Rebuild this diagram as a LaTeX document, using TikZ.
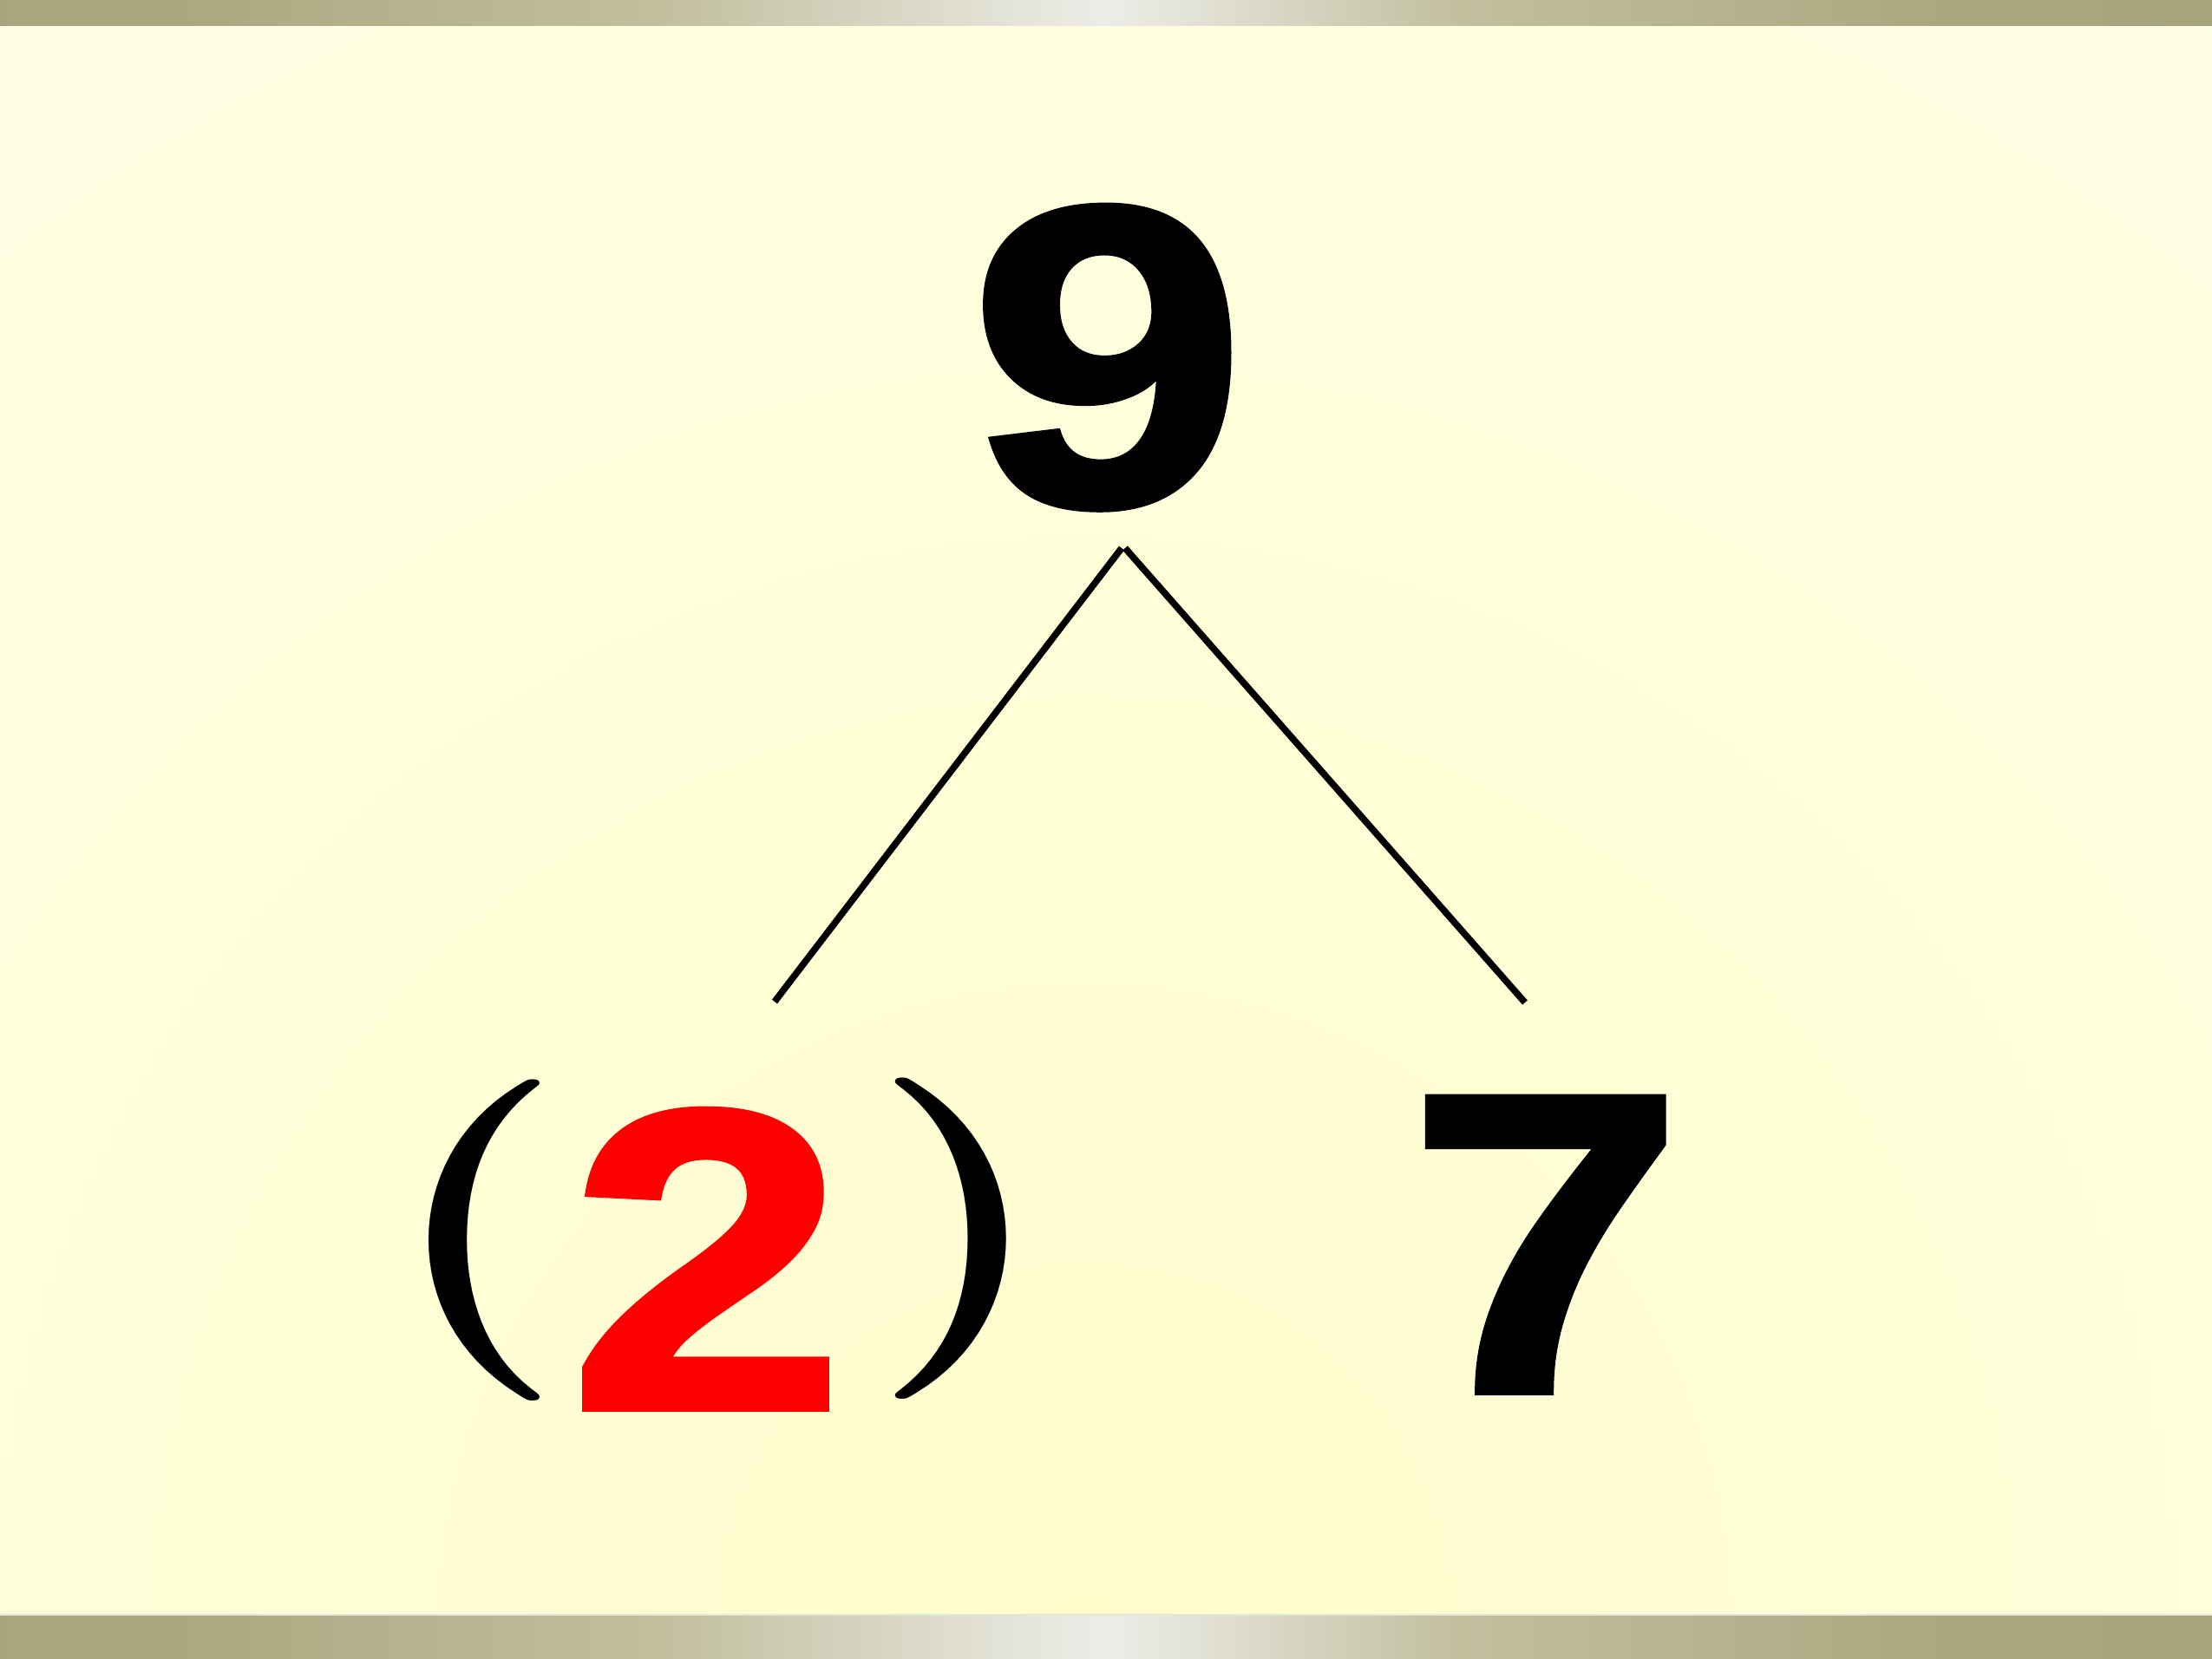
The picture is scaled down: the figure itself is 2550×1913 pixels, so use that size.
\documentclass[tikz,border=0pt]{standalone}
\usepackage{fontspec}
\setmainfont{Liberation Sans}
\newfontfamily\digitfont{Liberation Sans}[BoldFeatures={FakeBold=1.6}]
\newfontfamily\parenfont{Latin Modern Roman}
\usetikzlibrary{calc}
\definecolor{bgout}{HTML}{FFFFEC}
\definecolor{bgin}{HTML}{FFFDCC}
\definecolor{barA}{HTML}{9E9C70}
\definecolor{barB}{HTML}{ACA982}
\definecolor{barC}{HTML}{C2BF9E}
\definecolor{barD}{HTML}{EDEDE8}
\definecolor{numred}{HTML}{FF0000}
\pgfdeclarehorizontalshading{barshade}{100bp}{
  color(0bp)=(barA!90!gray); color(12bp)=(barA); color(30bp)=(barB);
  color(40bp)=(barC); color(50bp)=(barD); color(58bp)=(barC);
  color(68bp)=(barB); color(85bp)=(barA); color(100bp)=(barB)}
\tikzset{
  digit/.style={font=\fontsize{148pt}{148pt}\digitfont\bfseries, inner sep=0pt, anchor=base, xscale=1.16},
  paren/.style={font=\fontsize{111pt}{111pt}\parenfont\bfseries, inner sep=0pt, anchor=center, xscale=1.3},
  branch/.style={line width=2.3pt, line cap=butt, black}
}
\begin{document}
\begin{tikzpicture}[x=0.3pt,y=-0.3pt]
\useasboundingbox (0,0) rectangle (2550,1913);
% background
\begin{scope}
\clip (0,0) rectangle (2550,1913);
\fill[bgout] (0,0) rectangle (2550,1913);
\shade[inner color=bgin, outer color=bgout] (1250,1880) circle (3000);
\end{scope}
% bars
\shade[shading=barshade] (0,0) rectangle (2550,30);
\shade[shading=barshade] (0,1862) rectangle (2550,1913);
\draw[white!70!barB, line width=0.6pt] (0,1862) -- (2550,1862);
% numbers
\node[digit] (nine) at (1277,582) {9};
\node[digit, text=numred] (two) at (815,1624) {2};
\node[digit] (seven) at (1782,1605) {7};
\node[paren] (lp) at (548,1430) {(};
\node[paren] (rp) at (1108,1428) {)};
% branches
\coordinate (apexL) at (1293,632);
\coordinate (apexR) at (1297,632);
\coordinate (endL) at (893,1155);
\coordinate (endR) at (1758,1156);
\draw[branch] (apexL) -- (endL);
\draw[branch] (apexR) -- (endR);
\end{tikzpicture}
\end{document}
